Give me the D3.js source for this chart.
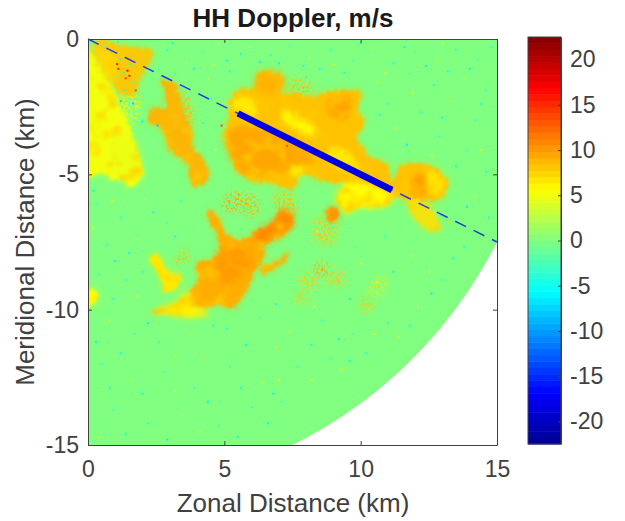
<!DOCTYPE html>
<html>
<head>
<meta charset="utf-8">
<script src="https://cdn.jsdelivr.net/npm/d3@7"></script>
<style>
  html, body { margin: 0; background: white; }
  text { font-family: "Liberation Sans", Arial, sans-serif; fill: #404040; }
  .axis text { font-size: 23px; }
  .axis path, .axis line { stroke: #404040; stroke-width: 1px; }
  .axlabel { font-size: 26px; text-anchor: middle; }
  .title { font-size: 26px; font-weight: bold; text-anchor: middle; fill: #1a1a1a; }
</style>
</head>
<body>
<div class="chart"></div>
<script>
// echo outlines, [zonal km, km south of the radar]
const westEcho = [[.04,.41],[.44,1.03],[.88,1.77],[1.25,2.62],[1.54,3.25],[1.8,4.21],[2.05,4.91],[1.54,5.5],[1.28,5.2],[.92,5.2],[.44,4.95],[.04,5.1],[-.1,3]];
const cornerEcho = [[.26,.06],[1.36,.28],[2.35,.45],[2.2,1],[1.9,1.5],[1.6,2.1],[1.05,1.9],[.8,1.3],[.4,.7]];
const streamEcho = [[2.7,1.52],[3.25,1.76],[3.5,2.62],[3.8,3.49],[3.8,3.98],[4.23,4.47],[4.41,5.09],[3.99,5.46],[3.74,5.21],[3.62,4.59],[3.01,4.1],[2.7,3.36],[2.21,2.99],[2.33,2.62],[2.89,2.5],[2.82,2.01]];
const mainEcho = [[6.25,1.27],[7.14,1.39],[7.04,1.95],[7.65,2.01],[8.26,2.13],[8.87,1.95],[10.04,2.01],[9.85,2.62],[10.16,3.12],[9.85,3.61],[10.34,4.35],[10.95,4.59],[11.14,5.33],[11.44,4.72],[11.93,4.59],[12.66,4.72],[13.21,5.39],[12.79,5.95],[12.18,5.95],[11.69,5.95],[11.2,5.83],[10.95,6.13],[9.97,6.2],[9.49,6.38],[9.12,5.95],[9.49,5.33],[9,5.33],[8.26,5.09],[7.77,5.02],[7.53,5.52],[6.8,5.33],[5.94,5.21],[5.45,4.84],[5.21,4.22],[4.99,3.61],[5.15,2.99],[5.21,2.25],[5.57,1.88],[6.19,1.76]];
const mainTail = [[11.69,5.95],[12.42,6.07],[12.91,7.06],[12.54,7.06],[11.93,6.56]];
const southEcho = [[4.47,6.32],[4.84,6.69],[4.96,7.06],[5.45,7.43],[6.19,7.12],[6.8,6.75],[7.16,6.32],[7.53,6.57],[7.29,7.18],[6.92,7.37],[6.43,7.67],[6.43,8.04],[6.06,8.66],[5.82,9.27],[5.33,9.89],[4.72,9.83],[4.35,9.95],[3.86,9.89],[3.37,10.14],[3.01,10.14],[2.4,10.08],[3.13,9.83],[3.74,9.34],[4.05,8.91],[3.98,8.29],[4.47,8.17],[4.78,7.92],[4.72,7.18],[4.47,6.81]];
const fingerEcho = [[2.27,8.1],[2.52,7.98],[3.01,8.66],[3.37,8.72],[3.25,9.21],[2.82,9.34],[2.7,8.91]];
const southTail = [[6.31,8.47],[6.92,8.23],[7.41,7.86],[7.29,8.1],[6.67,8.6],[6.43,8.72]];
const midPatch = [[8.75,6.32],[9.12,6.2],[9.18,6.63],[8.87,6.75]];
const edgePatch = [[0,9.3],[.3,9.25],[.35,9.6],[.1,9.85],[0,9.85]];

// weak, broken up echoes
const southSliver = [[3.13,8.29],[3.56,7.74],[3.68,8.23],[3.37,8.29]];
const northPatch = [[5.09,5.75],[5.7,5.7],[5.6,6.3],[4.96,6.3]];
const faintNorth = [[6.8,5.8],[7.5,5.75],[7.7,6.4],[7.04,6.4]];
const faintA = [[7.75,8.7],[8.4,8.7],[8.35,9.2],[7.85,9.2]];
const faintB = [[8.35,8.3],[8.8,8.3],[8.75,8.7],[8.35,8.7]];
const faintC = [[8.8,8.65],[9.35,8.6],[9.35,9.1],[8.8,9.1]];
const faintD = [[10.4,8.95],[10.95,8.85],[10.75,9.45],[10.35,9.45]];
const faintE = [[10,9.65],[10.5,9.65],[10.45,10.05],[10,10.05]];
const faintF = [[7.65,9.4],[8.05,9.4],[8.05,9.75],[7.65,9.75]];
const faintG = [[1.05,1.75],[1.8,2.1],[1.8,3],[1.3,3],[1.2,2.5]];
const faintH = [[5.8,5.7],[6.3,6],[6.1,6.6],[5.6,6.4]];
const faintI = [[8.3,6.6],[9.1,6.7],[9,7.6],[8.4,7.5]];
const faintJ = [[7.4,1.5],[8.2,1.6],[8.1,2.1],[7.5,2.05]];
const faintK = [[3.6,1.9],[3.95,2.9],[3.75,3.4],[3.45,2.4]];

// velocity differences inside the larger echoes
const cornerWest = [[.2,.3],[1,.6],[1.05,1.4],[.8,1.6]];
const mainTower = [[6.25,1.27],[7.14,1.39],[7.04,2],[6.19,1.85]];
const mainWest = [[5.08,3.61],[5.45,3.24],[6.55,3.36],[7.53,3.73],[8.26,4.47],[7.77,4.84],[6.8,4.96],[5.94,5.09],[5.45,4.72]];
const mainNorth = [[8.96,2.13],[9.49,2.07],[9.61,2.87],[8.96,2.87],[8.75,2.5]];
const mainEast = [[11.93,5.09],[12.42,4.96],[12.54,5.7],[12.05,5.82],[11.81,5.46]];
const paleA = [[5.33,2.25],[5.94,2.13],[6.19,2.87],[5.7,2.81],[5.33,2.62]];
const paleB = [[7.16,2.62],[7.77,2.87],[8.39,3.36],[8.14,3.61],[7.65,3.36],[7.16,3.06]];
const paleC = [[8.96,3.98],[9.73,4.35],[9.97,4.96],[9.36,4.84],[8.75,4.35]];
const paleD = [[9.18,5.83],[9.49,5.33],[10.22,5.33],[11.2,5.83],[10.83,6.13],[9.97,6.2],[9.49,6.38]];
const paleE = [[7.41,4.72],[8.02,4.72],[7.77,5.02],[7.41,5.02]];
const paleF = [[12.42,4.84],[13.03,5.21],[12.91,5.7],[12.54,5.7]];
const southHot = [[6.19,7.12],[6.8,6.75],[7.16,6.32],[7.53,6.57],[7.29,7.06],[6.8,7.18],[6.43,7.61],[6.06,7.67]];
const southCore = [[4.84,7.8],[5.7,7.67],[6.06,8.29],[5.57,8.78],[4.96,9.15],[4.72,8.66]];
const southTip = [[2.4,10.08],[3.13,9.83],[3.74,9.34],[3.86,9.83],[4.41,10.08],[3.86,10.26],[3.01,10.16]];
const westBright = [[1,3.5],[1.5,3.7],[1.9,4.6],[1.5,5.2],[.9,4.9],[.8,4.1]];

// lone noisy gates: zonal km, km south, m/s
const speckles = [[.6,.3,-3],[2.9,.4,-4],[3.6,.9,3],[4.2,.5,-3],[5.1,.8,-5],[5.9,.3,3],[6.7,.6,-4],[7.4,.25,-3],[8.1,.7,4],[8.9,.4,-4],[9.7,.8,-3],[10.4,.35,3],[11.2,.9,-5],[12,.5,-3],[12.8,.8,4],[13.5,.4,-4],[14.3,.75,-3],[3.2,1.3,-3],[4.4,1.5,4],[5.2,1.2,-4],[8,1.4,-3],[9.4,1.25,-5],[10.6,1.6,4],[11.8,1.3,-3],[12.7,1.7,-4],[13.8,1.5,3],[14.6,1.9,-4],[11,2.4,-3],[12.2,2.7,-5],[13.3,2.3,4],[14.2,3,-3],[11.3,3.3,4],[12.9,3.6,-4],[13.9,4.1,-3],[14.6,4.9,-4],[14.2,5.8,3],[4.5,2.2,-3],[4.2,3.1,-4],[4.7,4.1,4],[.3,6.1,-3],[1.2,6.6,-4],[2.1,5.9,3],[2.9,6.8,-3],[.7,7.6,-4],[1.8,7.4,4],[3.4,6,-4],[.4,8.7,-3],[1.4,8.9,-4],[.8,10.4,4],[1.7,10.9,-3],[2.6,11.2,-4],[3.7,10.9,3],[5.1,10.7,-4],[6.3,10.3,-3],[7.4,10.8,4],[8.6,10.4,-4],[9.7,10.9,-3],[11,10.5,-4],[12.1,9.9,3],[13,8.9,-3],[13.8,7.7,-4],[11.9,8,4],[10.9,7.3,-4],[9.8,7.7,-3],[8.4,7.1,4],[.5,12,-4],[1.6,12.6,3],[2.8,12.3,-3],[3.9,12.9,-4],[5.2,12.1,-3],[6.4,12.7,4],[7.7,12.1,-4],[8.9,11.8,-3],[10.2,11.6,-4],[.9,13.7,-3],[2.2,14.2,-4],[3.5,13.9,3],[4.8,14.3,-3],[6,13.6,-4],[7.1,13.4,-3],[.4,14.7,4],[11.4,11,4],[9.3,12.2,6],[6.9,11.4,7],[4.3,11.8,7],[13.2,6.8,7],
    [1.1,.1,-4],[3.1,.15,-5],[4.8,.2,3],[6.3,.85,-6],[7.9,1,-5],[9,.95,5],[10,.15,-6],[11.6,.3,-5],[13,.2,4],[14,1.1,-6],[14.8,.3,-4],[3.9,1.1,-6],[4.6,.95,5],[5.6,.55,-5],[7,.9,-6],[8.5,1.1,-5],[10.9,1.25,5],[12.4,1,-6],[13.2,1.2,-5],[14.4,2.4,-5],[13,2.9,-6],[11.9,2,5],[10.7,2.8,-5],[11.7,3.9,-6],[12.6,4.3,4],[13.5,4.7,-5],[14.4,4.1,5],[14.7,6.6,-5],[13.9,6.2,-6],[.2,5.6,-6],[.9,6,5],[1.5,7.9,-5],[2.4,6.4,-6],[3.2,7.3,-5],[.2,7,5],[1,8.2,-6],[2,8.6,-5],[.9,9.6,-5],[1.8,9.5,5],[.3,11.2,-6],[1.2,11.6,-5],[2.2,10.5,-6],[3.2,11.7,5],[4.6,10.6,-5],[5.8,11.3,-6],[7,12.6,5],[8.2,11.3,-5],[9.2,11.1,-6],[10.5,10.9,5],[11.8,10.6,-5],[12.6,9.4,-6],[13.4,8.1,-5],[12.5,8.6,5],[11.2,8.6,-6],[10,8.3,6],[9.6,9.6,-6],[8.3,9.9,5],[6.9,9.8,-5],[.8,12.9,-5],[2,13.1,-6],[3.2,13,5],[4.4,13.4,-6],[5.6,12.9,-5],[6.8,13.1,-6],[1.4,14.6,-5],[2.9,14.8,-6],[4.1,14.5,5],[5.5,14.7,-5],[6.6,14.2,-6],[8.2,12.6,5],[9.6,11.9,-5]];
const redGates = [[1.07,.93,16],[1.11,1.1,15],[1.45,1.17,17],[1.52,1.36,16],[1.38,1.45,14],[1.65,2.38,-8],[1.2,2.3,-8],[2,3.05,-6],[2.55,3.2,-8],[4.9,3.2,14],[7.3,3.95,13],[1.2,.75,-4],[1.55,.95,-3],[1.3,1.25,-4],[1.65,1.6,-3],[1.05,1.4,-2],[1.35,1.9,-4],[1.75,1.9,14]];

const beamStart = [0, 0];
const beamEnd = [15, 7.5];
const sampleStart = [5.5, 2.75];
const sampleEnd = [11.15, 5.58];

const xTicks = [0, 5, 10, 15];
const yTicks = [0, -5, -10, -15];
const barTicks = [20, 15, 10, 5, 0, -5, -10, -15, -20];
const jetStops = ["#00008f", "#0000ff", "#00ffff", "#ffff00", "#ff0000", "#800000"];
const jetAt = [0, .125, .375, .625, .875, 1];

var margin = ({top: 39, left: 88});
var width = 409, height = 406;
var rangeKm = 16.77, vMax = 22.5;

var root = d3.select(".chart").append("svg")
    .attr("width", 625)
    .attr("height", 521)
    .style("display", "block");

var svg = root.append("g")
    .attr("transform", "translate(" + margin.left + "," + margin.top + ")");

const xScale = d3.scaleLinear().domain([0, 15]).range([0, width]);
const yScale = d3.scaleLinear().domain([0, -15]).range([0, height]);
const vToT = d3.scaleLinear().domain([-vMax, vMax]).range([0, 1]);
const jet = d3.scaleLinear().domain(jetAt).range(jetStops).interpolate(d3.interpolateRgb);
const color = v => jet(vToT(v));

const defs = root.append("defs");
defs.append("clipPath").attr("id", "plotclip").append("rect")
    .attr("width", width).attr("height", height);

function plotFilter(id) {
    return defs.append("filter").attr("id", id)
        .attr("filterUnits", "userSpaceOnUse")
        .attr("color-interpolation-filters", "sRGB")
        .attr("x", -10).attr("y", -10).attr("width", width + 20).attr("height", height + 20);
}

// ragged edge, cloudy yellow mottling and a thin grainy fringe
const rough = plotFilter("rough");
rough.append("feTurbulence").attr("type", "fractalNoise").attr("baseFrequency", .28)
    .attr("numOctaves", 2).attr("seed", 4).attr("result", "n");
rough.append("feDisplacementMap").attr("in", "SourceGraphic").attr("in2", "n")
    .attr("scale", 8).attr("xChannelSelector", "R").attr("yChannelSelector", "G").attr("result", "d");
rough.append("feTurbulence").attr("type", "fractalNoise").attr("baseFrequency", .07)
    .attr("numOctaves", 2).attr("seed", 12).attr("result", "c");
rough.append("feColorMatrix").attr("in", "c").attr("type", "matrix")
    .attr("values", "0 0 0 0 1  0 0 0 0 .8  0 0 0 0 0  2.2 0 0 0 -1.05").attr("result", "cloud");
rough.append("feComposite").attr("in", "cloud").attr("in2", "d").attr("operator", "in").attr("result", "mottle");
rough.append("feMorphology").attr("in", "d").attr("operator", "dilate").attr("radius", 2).attr("result", "fat");
rough.append("feGaussianBlur").attr("in", "fat").attr("stdDeviation", 2).attr("result", "halo");
rough.append("feTurbulence").attr("type", "fractalNoise").attr("baseFrequency", .6)
    .attr("numOctaves", 2).attr("seed", 9).attr("result", "g");
rough.append("feColorMatrix").attr("in", "g").attr("type", "matrix")
    .attr("values", "0 0 0 0 0  0 0 0 0 0  0 0 0 0 0  7 0 0 0 -3.5").attr("result", "grain");
rough.append("feComposite").attr("in", "halo").attr("in2", "grain").attr("operator", "in").attr("result", "fringe");
const merged = rough.append("feMerge").attr("result", "m");
merged.append("feMergeNode").attr("in", "fringe");
merged.append("feMergeNode").attr("in", "d");
merged.append("feMergeNode").attr("in", "mottle");
rough.append("feGaussianBlur").attr("in", "m").attr("stdDeviation", .8);

// weak echoes only show as grain, no solid core
const sparse = plotFilter("sparse");
sparse.append("feGaussianBlur").attr("in", "SourceGraphic").attr("stdDeviation", 3).attr("result", "b");
sparse.append("feTurbulence").attr("type", "fractalNoise").attr("baseFrequency", .42)
    .attr("numOctaves", 3).attr("seed", 21).attr("result", "g");
sparse.append("feColorMatrix").attr("in", "g").attr("type", "matrix")
    .attr("values", "0 0 0 0 0  0 0 0 0 0  0 0 0 0 0  5 0 0 0 -2.3").attr("result", "grain");
sparse.append("feComposite").attr("in", "b").attr("in2", "grain").attr("operator", "in").attr("result", "f");
sparse.append("feGaussianBlur").attr("in", "f").attr("stdDeviation", .7);

const soft = plotFilter("soft");
soft.append("feGaussianBlur").attr("stdDeviation", 2.8);

const small = plotFilter("small");
small.append("feGaussianBlur").attr("stdDeviation", .4);

const echoLine = d3.line()
    .x(d => xScale(d[0]))
    .y(d => yScale(-d[1]))
    .curve(d3.curveCatmullRomClosed.alpha(.5));

const plot = svg.append("g").attr("clip-path", "url(#plotclip)");

// radar sector, the same range reaches both axes
plot.append("ellipse")
    .attr("cx", xScale(0)).attr("cy", yScale(0))
    .attr("rx", xScale(rangeKm) - xScale(0))
    .attr("ry", yScale(-rangeKm) - yScale(0))
    .attr("fill", color(0));

const weakEchoes = [
    {pts: faintG, v: 6}, {pts: faintA, v: 8}, {pts: faintB, v: 9.5}, {pts: faintC, v: 8},
    {pts: faintD, v: 6.5}, {pts: faintE, v: 8}, {pts: faintF, v: 8}, {pts: faintNorth, v: 8.5},
    {pts: southSliver, v: 8.5}, {pts: northPatch, v: 9.5}, {pts: faintH, v: 9}, {pts: faintI, v: 8},
    {pts: faintJ, v: 8.5}, {pts: faintK, v: 8.5}
];
const baseEchoes = [
    {pts: westEcho, v: 5.1, o: 1}, {pts: cornerEcho, v: 8.2, o: .9}, {pts: streamEcho, v: 9, o: .95},
    {pts: mainEcho, v: 8.3, o: 1}, {pts: mainTail, v: 7, o: .85},
    {pts: southEcho, v: 9.2, o: 1}, {pts: fingerEcho, v: 6.6, o: 1},
    {pts: southTail, v: 9, o: .85}, {pts: midPatch, v: 10.2, o: 1}, {pts: edgePatch, v: 5.6, o: 1}
];
const innerEchoes = [
    {pts: cornerWest, v: 7.4}, {pts: mainTower, v: 9}, {pts: mainWest, v: 9.5}, {pts: mainNorth, v: 9.6}, {pts: mainEast, v: 9.8},
    {pts: paleA, v: 6.5}, {pts: paleB, v: 6}, {pts: paleC, v: 6.5}, {pts: paleD, v: 5.8}, {pts: paleE, v: 6.5}, {pts: paleF, v: 6.8},
    {pts: southHot, v: 10.8}, {pts: southCore, v: 10}, {pts: southTip, v: 6.2}, {pts: westBright, v: 4.8}
];

plot.append("g").attr("filter", "url(#sparse)")
    .selectAll("path")
    .data(weakEchoes)
    .join("path")
    .attr("d", d => echoLine(d.pts))
    .attr("fill", d => color(d.v));

const echoes = plot.append("g").attr("filter", "url(#rough)");
echoes.selectAll("path.base")
    .data(baseEchoes)
    .join("path")
    .attr("class", "base")
    .attr("d", d => echoLine(d.pts))
    .attr("fill", d => color(d.v))
    .attr("fill-opacity", d => d.o);

echoes.append("g").attr("filter", "url(#soft)")
    .selectAll("path")
    .data(innerEchoes)
    .join("path")
    .attr("d", d => echoLine(d.pts))
    .attr("fill", d => color(d.v));

plot.append("g").attr("filter", "url(#small)")
    .selectAll("rect")
    .data(speckles.concat(redGates))
    .join("rect")
    .attr("x", d => xScale(d[0]) - 1)
    .attr("y", d => yScale(-d[1]) - 1)
    .attr("width", 2)
    .attr("height", 2)
    .attr("fill", d => color(d[2]));

// beam and the sampled part of it
svg.append("line")
    .attr("x1", xScale(beamStart[0])).attr("y1", yScale(-beamStart[1]))
    .attr("x2", xScale(beamEnd[0])).attr("y2", yScale(-beamEnd[1]))
    .attr("stroke", "#1f3fe0")
    .attr("stroke-width", 1.5)
    .attr("stroke-dasharray", "12 8.5");

svg.append("line")
    .attr("x1", xScale(sampleStart[0])).attr("y1", yScale(-sampleStart[1]))
    .attr("x2", xScale(sampleEnd[0])).attr("y2", yScale(-sampleEnd[1]))
    .attr("stroke", "#0000e6")
    .attr("stroke-width", 6.5);

// axes, box style with inward ticks
svg.append("g").attr("class", "axis")
    .attr("transform", `translate(0, ${height})`)
    .call(d3.axisBottom(xScale).tickValues(xTicks).tickFormat(String).tickSizeInner(-4).tickSizeOuter(0).tickPadding(16));
svg.append("g").attr("class", "axis")
    .call(d3.axisLeft(yScale).tickValues(yTicks).tickFormat(String).tickSizeInner(-4).tickSizeOuter(0).tickPadding(9));
svg.append("g").attr("class", "axis")
    .call(d3.axisTop(xScale).tickValues(xTicks).tickFormat("").tickSizeInner(-4).tickSizeOuter(0));
svg.append("g").attr("class", "axis")
    .attr("transform", `translate(${width}, 0)`)
    .call(d3.axisRight(yScale).tickValues(yTicks).tickFormat("").tickSizeInner(-4).tickSizeOuter(0));

root.append("text").attr("class", "title").attr("x", 293).attr("y", 27).text("HH Doppler, m/s");
root.append("text").attr("class", "axlabel").attr("x", 293).attr("y", 512).text("Zonal Distance (km)");
root.append("text").attr("class", "axlabel")
    .attr("transform", "translate(34,242) rotate(-90)")
    .text("Meridional Distance (km)");

// colorbar, 64 steps like the default matlab jet
const barX = 528, barW = 33, barTop = 37, barBottom = 444;
const barScale = d3.scaleLinear().domain([-vMax, vMax]).range([barBottom, barTop]);
const levels = d3.range(64);
const levelV = i => -vMax + (i + .5) * (2 * vMax / 64);

root.append("g").selectAll("rect")
    .data(levels)
    .join("rect")
    .attr("x", barX)
    .attr("width", barW)
    .attr("y", i => barScale(-vMax + (i + 1) * (2 * vMax / 64)))
    .attr("height", (barBottom - barTop) / 64 + .5)
    .attr("fill", i => color(levelV(i)));

root.append("g").attr("class", "axis")
    .attr("transform", `translate(${barX + barW}, 0)`)
    .call(d3.axisRight(barScale).tickValues(barTicks).tickFormat(String).tickSizeInner(-3).tickSizeOuter(0).tickPadding(9));

root.append("rect")
    .attr("x", barX).attr("y", barTop)
    .attr("width", barW).attr("height", barBottom - barTop)
    .attr("fill", "none").attr("stroke", "#404040");
</script>
</body>
</html>
